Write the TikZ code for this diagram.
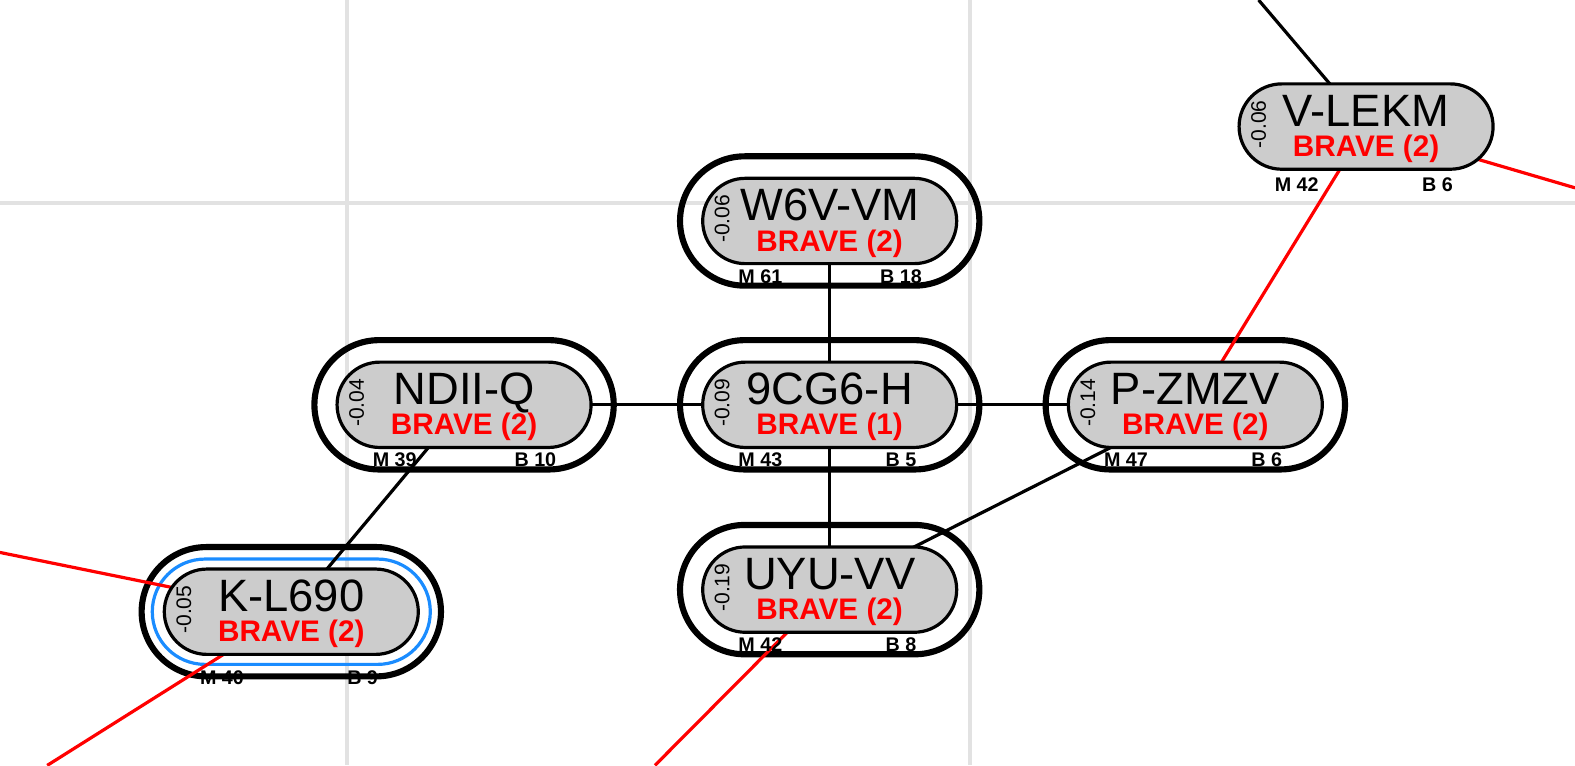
\documentclass[tikz,border=0pt]{standalone}
\usepackage{fontspec}
\setmainfont{Liberation Sans}
\usetikzlibrary{shapes.misc,calc}
\pgfdeclarelayer{gridlayer}
\pgfdeclarelayer{ringlayer}
\pgfdeclarelayer{edgelayer}
\pgfsetlayers{gridlayer,ringlayer,edgelayer,main}
\definecolor{pillgray}{HTML}{CCCCCC}
\definecolor{gridgray}{HTML}{E2E2E2}
\definecolor{ringblue}{HTML}{1A8CFF}
\definecolor{bred}{HTML}{FF0000}
\tikzset{
 pill/.style={rounded rectangle, draw=black, line width=2.4pt, fill=pillgray, minimum width=190.5pt, minimum height=64pt, inner sep=0pt},
 ring/.style={rounded rectangle, draw=black, line width=4.6pt, minimum width=224.5pt, minimum height=97pt, inner sep=0pt},
 selring/.style={rounded rectangle, draw=ringblue, line width=2.4pt, minimum width=208.5pt, minimum height=79pt, inner sep=0pt},
 nametext/.style={font=\fontsize{34}{34}\selectfont, anchor=base, inner sep=0pt},
 bravetext/.style={font=\fontsize{22.3}{22.3}\selectfont\bfseries, text=bred, anchor=base, inner sep=0pt},
 numtext/.style={font=\fontsize{15.8}{15.8}\selectfont, rotate=90, inner sep=0pt},
 stattext/.style={font=\fontsize{14.8}{14.8}\selectfont\bfseries, inner sep=0pt},
 blackedge/.style={draw=black, line width=2.4pt},
 rededge/.style={draw=bred, line width=2.4pt},
 gridline/.style={draw=gridgray, line width=3pt},
}
% #1 id, #2 x, #3 y, #4 name, #5 number, #6 brave, #7 M, #8 B, #9 stat offset
\newcommand{\pillat}[9]{%
  \node[pill] (#1) at (#2,#3) {};
  \node[nametext] (#1-name) at ($(#1.center)+(0,0)$) {#4};
  \node[bravetext] (#1-brave) at ($(#1.center)+(0,30)$) {BRAVE (#6)};
  \node[numtext] (#1-num) at ($(#1.center)+(-107,-2)$) {#5};
  \node[stattext] (#1-m) at ($(#1.center)+(-69,#9)$) {M #7};
  \node[stattext] (#1-b) at ($(#1.center)+(71,#9)$) {B #8};
}
\begin{document}
\begin{tikzpicture}[x=0.75335pt,y=-0.75335pt]
\useasboundingbox (0,0) rectangle (1568,762);
% grid
\begin{pgfonlayer}{gridlayer}
\coordinate (g1t) at (345,0); \coordinate (g1b) at (345,762);
\coordinate (g2t) at (966,0); \coordinate (g2b) at (966,762);
\coordinate (g3l) at (0,202); \coordinate (g3r) at (1568,202);
\draw[gridline] (g1t) -- (g1b);
\draw[gridline] (g2t) -- (g2b);
\draw[gridline] (g3l) -- (g3r);
\end{pgfonlayer}
% rings
\begin{pgfonlayer}{ringlayer}
\node[ring] (w-ring) at (826,220) {};
\node[ring] (c-ring) at (826,403) {};
\node[ring] (n-ring) at (462,403) {};
\node[ring] (p-ring) at (1190,403) {};
\node[ring] (u-ring) at (826,587) {};
\node[ring] (k-ring) at (290,609) {};
\node[selring] (k-sel) at (290,609) {};
\end{pgfonlayer}
% nodes
\pillat{w}{826}{220}{W6V-VM}{-0.06}{2}{61}{18}{55}
\pillat{c}{826}{403}{9CG6-H}{-0.09}{1}{43}{5}{55}
\pillat{n}{462}{403}{NDII-Q}{-0.04}{2}{39}{10}{55}
\pillat{p}{1190}{403}{P-ZMZV}{-0.14}{2}{47}{6}{55}
\pillat{u}{826}{587}{UYU-VV}{-0.19}{2}{42}{8}{55}
\pillat{k}{290}{609}{K-L690}{-0.05}{2}{40}{9}{66}
\pillat{v}{1360}{126}{V-LEKM}{-0.06}{2}{42}{6}{58}
% free ends
\coordinate (top) at (1253,0);
\coordinate (right) at (1568,187);
\coordinate (left) at (0,550);
\coordinate (botl) at (47,762);
\coordinate (botm) at (652,762);
% edges
\begin{pgfonlayer}{edgelayer}
\draw[blackedge] (top) -- (v.center);
\draw[rededge] (v.center) -- (right);
\draw[rededge] (v.center) -- (p.center);
\draw[blackedge] (w.center) -- (c.center);
\draw[blackedge] (n.center) -- (c.center);
\draw[blackedge] (c.center) -- (p.center);
\draw[blackedge] (c.center) -- (u.center);
\draw[blackedge] (p.center) -- (u.center);
\draw[blackedge] (n.center) -- (k.center);
\draw[rededge] (left) -- (k.center);
\draw[rededge] (k.center) -- (botl);
\draw[rededge] (u.center) -- (botm);
\end{pgfonlayer}
\end{tikzpicture}
\end{document}
